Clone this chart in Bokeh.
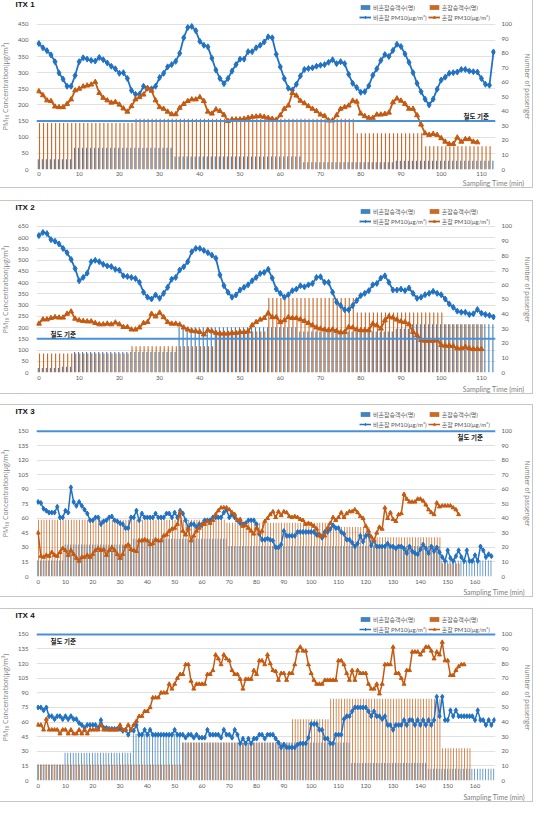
from bokeh.plotting import figure
from bokeh.models import (ColumnDataSource, Range1d, LinearAxis, FixedTicker, Span, Label,
                          Legend, LegendItem, Title, Spacer)
from bokeh.layouts import column
from bokeh.transform import dodge
from bokeh.embed import file_html
from bokeh.resources import INLINE

# ---------------- data ----------------
# ITX 1
itx1_nc_pm10 = [390,377,368,355,334,299,280,258,258,291,
                334,346,342,338,336,347,340,330,320,312,
                298,300,282,245,233,233,258,252,250,258,
                285,298,318,325,335,360,408,440,443,430,
                397,385,380,345,308,282,266,282,305,325,
                342,342,365,365,377,385,395,411,408,357,
                318,282,252,246,264,290,310,313,315,320,
                323,325,332,340,328,334,328,295,267,254,
                239,241,259,292,312,338,356,350,369,388,
                381,358,332,300,267,241,218,200,218,249,
                277,286,298,300,302,310,310,305,303,302,
                282,264,261,364]
itx1_c_pm10 = [242,230,214,212,195,193,193,203,217,245,
               250,257,260,263,271,237,222,214,207,209,
               201,189,179,196,217,224,232,252,244,214,
               193,188,179,171,171,191,203,212,217,217,
               224,212,179,173,186,181,169,150,155,155,
               155,157,160,163,164,165,163,160,157,154,
               168,188,198,237,229,213,205,196,188,181,
               170,166,152,152,168,188,193,198,213,210,
               173,165,160,160,170,170,172,176,208,220,
               213,203,188,188,168,139,112,107,110,107,
               97,86,79,79,99,86,94,94,86,84]
itx1_nc_pax = [7]*9 + [15]*25 + [9]*32 + [5]*23 + [6]*25
itx1_c_pax = [32]*24 + [35]*55 + [25]*17 + [16]*17

# ITX 2
itx2_nc_pm10 = [609,623,618,591,584,572,552,533,503,462,
                408,423,442,493,499,493,481,474,471,459,
                455,430,427,423,418,401,357,335,327,345,
                330,352,379,415,423,456,470,493,537,552,
                552,543,533,522,508,434,386,357,335,345,
                367,379,390,408,423,440,445,459,420,371,
                352,335,346,364,371,386,381,390,396,423,
                426,401,401,357,313,298,279,279,298,320,
                342,352,364,390,396,420,430,401,367,367,
                371,364,376,352,330,335,346,352,361,352,
                346,327,305,290,273,268,268,258,261,280,
                264,258,254,247]
itx2_c_pm10 = [217,236,236,242,246,244,244,261,271,239,
               232,229,227,227,220,214,214,217,214,222,
               214,202,202,191,191,200,220,224,261,249,
               266,246,224,217,217,213,200,191,185,183,
               180,169,188,183,176,173,173,173,176,176,
               180,180,183,210,224,235,242,264,246,246,
               224,232,246,242,242,236,229,220,210,200,
               195,191,188,191,185,178,180,202,200,191,
               188,188,188,217,210,195,232,249,244,235,
               227,224,214,180,166,144,141,141,141,144,
               122,119,119,117,107,107,114,107,104,104,
               104]
itx2_nc_pax = [3]*6 + [4]*3 + [14]*26 + [31]*30 + [28]*24 + [30]*4 + [33]*21
itx2_c_pax = [13]*23 + [18]*21 + [28]*13 + [51]*22 + [41]*22 + [33]*10

# ITX 3
itx3_nc_pm10 = [77,76,70,68,66,66,66,72,61,61,
                68,66,92,77,73,77,73,69,65,58,
                58,61,61,54,57,58,61,62,58,57,
                55,54,50,50,61,61,68,58,65,61,
                61,61,61,65,61,61,61,65,65,61,
                66,61,68,65,58,50,54,54,51,54,
                53,58,58,58,61,61,61,61,66,69,
                61,64,61,58,55,54,55,58,58,58,
                54,44,38,38,39,38,37,30,30,33,
                47,42,42,42,42,46,46,46,46,46,
                46,46,43,43,40,46,46,49,53,50,
                50,46,44,38,38,35,31,34,42,36,
                42,43,32,37,31,31,31,31,34,31,
                31,29,31,31,29,24,31,26,24,23,
                28,33,29,24,31,26,30,25,20,16,
                27,19,16,21,27,20,16,27,16,16,
                22,16,31,27,20,23,21]
itx3_c_pm10 = [45,21,20,22,21,25,22,21,25,29,
               27,22,27,23,19,16,20,20,22,20,
               23,27,29,27,28,22,27,30,27,23,
               19,23,31,33,28,27,26,37,37,38,
               37,33,34,38,37,37,42,43,47,49,
               50,54,66,47,43,49,37,42,47,50,
               54,54,57,55,58,64,68,71,71,71,
               69,66,64,58,59,52,53,50,47,44,
               50,45,47,57,60,64,67,61,67,63,
               67,66,62,61,62,61,59,58,54,55,
               54,52,49,42,42,42,50,55,61,58,
               61,66,61,65,67,67,69,66,62,60,
               52,47,41,37,45,51,49,71,60,66,
               59,57,64,65,85,80,77,77,77,80,
               80,78,74,69,66,64,76,72,73,73,
               73,73,71,69,64]
itx3_nc_pax = [11]*10 + [22]*25 + [26]*35 + [21]*78 + [11]*19
itx3_c_pax = [39]*69 + [37]*38 + [34]*15 + [27]*26 + [9]*7

# ITX 4
itx4_nc_pm10 = [75,75,72,75,66,66,63,66,66,63,
                66,63,66,63,63,59,57,54,57,57,
                57,57,54,62,54,54,53,53,53,53,
                53,51,52,47,52,51,57,47,47,52,
                47,52,47,47,47,47,47,47,47,47,
                52,47,47,47,44,47,47,44,47,44,
                44,44,52,47,47,47,47,44,52,47,
                47,44,52,47,38,43,38,43,38,43,
                43,47,47,43,47,47,47,43,39,34,
                37,34,34,34,34,37,38,38,38,44,
                58,58,58,52,52,43,43,38,38,47,
                47,47,63,66,66,71,75,75,75,75,
                75,71,66,71,66,66,63,66,57,57,
                52,57,57,57,62,57,62,62,57,62,
                57,62,57,62,57,62,86,66,86,62,
                62,72,66,72,66,66,66,66,66,66,
                62,72,62,62,57,62,57,62]
itx4_c_pm10 = [57,57,52,63,52,52,52,52,48,52,
               52,48,52,48,48,52,48,52,48,52,
               52,52,52,57,52,52,52,52,52,52,
               57,52,52,57,52,57,61,66,66,71,
               71,75,85,85,85,90,90,90,99,94,
               99,105,109,109,119,119,102,94,99,99,
               99,99,109,109,113,129,125,119,129,125,
               123,113,109,109,104,94,104,104,104,113,
               109,123,123,119,129,120,113,112,103,110,
               110,103,110,110,119,133,137,133,133,119,
               110,103,99,99,99,103,103,103,103,103,
               123,123,119,110,103,113,103,113,110,110,
               110,99,94,94,99,89,99,119,119,119,
               137,110,110,105,99,113,113,132,132,132,
               129,133,137,137,133,125,132,129,142,123,
               123,108,108,113,117,119,119]
itx4_nc_pax = [11]*10 + [19]*25 + [32]*18 + [26]*62 + [12]*28 + [8]*25
itx4_c_pax = [11]*53 + [26]*40 + [42]*14 + [56]*41 + [22]*11

titles = ["ITX 1", "ITX 2", "ITX 3", "ITX 4"]
legend_labels = ["비혼잡승객수(명)", "혼잡승객수(명)", "비혼잡 PM10(μg/m³)", "혼잡 PM10(μg/m³)"]
std_label = "철도 기준"
x_title = "Sampling Time (min)"

# ---------------- style ----------------
BLUE = "#2272C3"
ORANGE = "#C55A11"
BAR_BLUE = "#2E75B6"
BAR_ORANGE = "#C55A11"
STD = "#4A90D6"
KR = "Noto Sans CJK KR"
LEGF = "Lato, 'Noto Sans CJK KR'"
TICKF = "Lato"
AXF = "Open Sans"
PLOT_H = 147      # pixel height of the data area (0 .. max tick)
FRAME_TOP = 5     # frame starts this far below the canvas top


def make_panel(title, nc_pm, c_pm, nc_pax, c_pax, ymax, ystep, xmax, xtick_max, xlab_at,
               std_xy, H, plot_top, tick_so, xlab_so, ms, lw):
    F = plot_top - FRAME_TOP + PLOT_H          # frame height
    B = H - FRAME_TOP - F                       # bottom border
    ext = F / PLOT_H                            # range extension above the max tick
    p = figure(width=536, height=H, output_backend="svg", toolbar_location=None,
               x_range=Range1d(-0.6, xmax), y_range=Range1d(0, ymax * ext),
               min_border_left=35, min_border_right=36, min_border_top=FRAME_TOP,
               min_border_bottom=B,
               background_fill_color="white", border_fill_color="white",
               outline_line_color=None)
    p.styles = {"border": "1px solid #C6C6C6"}
    p.extra_y_ranges = {"pax": Range1d(0, 100 * ext)}

    yticks = list(range(0, ymax + 1, ystep))
    p.yaxis[0].ticker = FixedTicker(ticks=yticks)
    p.ygrid.ticker = FixedTicker(ticks=yticks)
    p.ygrid.grid_line_color = "#D9D9D9"
    p.ygrid.grid_line_width = 0.8
    p.xgrid.visible = False
    p.xaxis[0].ticker = FixedTicker(ticks=list(range(0, xtick_max + 1, 10)))

    rax = LinearAxis(y_range_name="pax", ticker=FixedTicker(ticks=list(range(0, 101, 10))),
                     axis_label="Number of passenger")
    p.add_layout(rax, "right")

    # second bottom axis: carries the x title at the right end
    sax = LinearAxis(ticker=FixedTicker(ticks=[xlab_at]),
                     major_label_overrides={xlab_at: x_title})

    for ax in [p.xaxis[0], p.yaxis[0], rax, sax]:
        ax.axis_line_color = None
        ax.major_tick_line_color = None
        ax.minor_tick_line_color = None
        ax.major_tick_out = 0
        ax.major_tick_in = 0
        ax.minor_tick_out = 0
        ax.minor_tick_in = 0
        ax.major_label_text_font = TICKF
        ax.major_label_text_font_size = "6px"
        ax.major_label_text_color = "#595959"
        ax.axis_label_text_font = AXF
        ax.axis_label_text_font_style = "normal"
        ax.axis_label_text_color = "#808080"
    p.yaxis[0].axis_label = "PM₁₀ Concentration(μg/m³)"
    p.yaxis[0].axis_label_text_font_size = "7px"
    p.yaxis[0].major_label_standoff = 8
    p.yaxis[0].axis_label_standoff = 5
    rax.axis_label_text_font_size = "6.5px"
    rax.major_label_standoff = 6
    rax.axis_label_standoff = 8
    p.xaxis[0].major_label_standoff = tick_so
    sax.major_label_text_font_size = "7px"
    sax.major_label_text_color = "#7F7F7F"
    sax.major_label_standoff = xlab_so
    p.add_layout(sax, "below")

    # passenger bars
    src_nc = ColumnDataSource(dict(t=list(range(len(nc_pax))), v=nc_pax))
    src_c = ColumnDataSource(dict(t=list(range(len(c_pax))), v=c_pax))
    b1 = p.vbar(x=dodge("t", -0.15, range=p.x_range), top="v", width=0.28, source=src_nc,
                y_range_name="pax", fill_color=BAR_BLUE, line_color=None, fill_alpha=0.9)
    b2 = p.vbar(x=dodge("t", 0.15, range=p.x_range), top="v", width=0.28, source=src_c,
                y_range_name="pax", fill_color=BAR_ORANGE, line_color=None, fill_alpha=0.9)

    # standard line
    p.add_layout(Span(location=150, dimension="width", line_color=STD, line_width=2,
                      level="glyph"))

    # PM10 lines
    t1 = list(range(len(nc_pm)))
    t2 = list(range(len(c_pm)))
    l1 = p.line(t1, nc_pm, line_color=BLUE, line_width=lw)
    s1 = p.scatter(t1, nc_pm, marker="diamond", size=ms, fill_color=BLUE, line_color=BLUE)
    l2 = p.line(t2, c_pm, line_color=ORANGE, line_width=lw)
    s2 = p.scatter(t2, c_pm, marker="triangle", size=ms - 1, fill_color=ORANGE, line_color=ORANGE)

    # legend inside the (extended) frame, top right
    legend = Legend(items=[LegendItem(label=legend_labels[0], renderers=[b1]),
                           LegendItem(label=legend_labels[1], renderers=[b2]),
                           LegendItem(label=legend_labels[2], renderers=[l1, s1]),
                           LegendItem(label=legend_labels[3], renderers=[l2, s2])],
                    location=(323, F - 20.5), orientation="horizontal", ncols=2,
                    label_text_font=LEGF, label_text_font_size="6px",
                    label_text_line_height=1.0,
                    label_text_color="#595959", label_height=9, label_standoff=2,
                    glyph_width=12, glyph_height=6, spacing=1, padding=0, margin=0,
                    border_line_color=None, background_fill_alpha=0)
    p.add_layout(legend)

    # panel title (side panel, so it is not clipped)
    p.add_layout(Title(text=title, align="left", offset=-21, standoff=-10,
                       vertical_align="bottom", text_baseline="bottom",
                       text_font="Liberation Sans", text_font_style="bold",
                       text_font_size="8px", text_color="#111111"), "above")

    p.add_layout(Label(x=std_xy[0], y=std_xy[1], x_units="screen", y_units="screen",
                       text=std_label, text_font=KR, text_font_style="bold",
                       text_font_size="6.5px", text_baseline="middle", text_color="#222222"))
    return p


p1 = make_panel(titles[0], itx1_nc_pm10, itx1_c_pm10, itx1_nc_pax, itx1_c_pax,
                450, 50, 113.5, 110, 113, (427, 54), 191, 26, 2, 0, 6, 1.8)
p2 = make_panel(titles[1], itx2_nc_pm10, itx2_c_pm10, itx2_nc_pax, itx2_c_pax,
                650, 50, 113.5, 110, 113, (14, 39), 194, 25, 3, 2, 6, 1.8)
p3 = make_panel(titles[2], itx3_nc_pm10, itx3_c_pm10, itx3_nc_pax, itx3_c_pax,
                150, 15, 167.5, 160, 167, (421, 140), 193, 26, 3, 1, 5, 1.5)
p4 = make_panel(titles[3], itx4_nc_pm10, itx4_c_pm10, itx4_nc_pax, itx4_c_pax,
                150, 15, 167.5, 160, 167, (14, 140), 194, 25, 3, 2, 5, 1.5)

layout = column(p1, Spacer(height=12), p2, Spacer(height=10), p3, Spacer(height=11), p4,
                margin=(-3, 0, 0, -3))
open("out.html", "w").write(file_html(layout, INLINE))
